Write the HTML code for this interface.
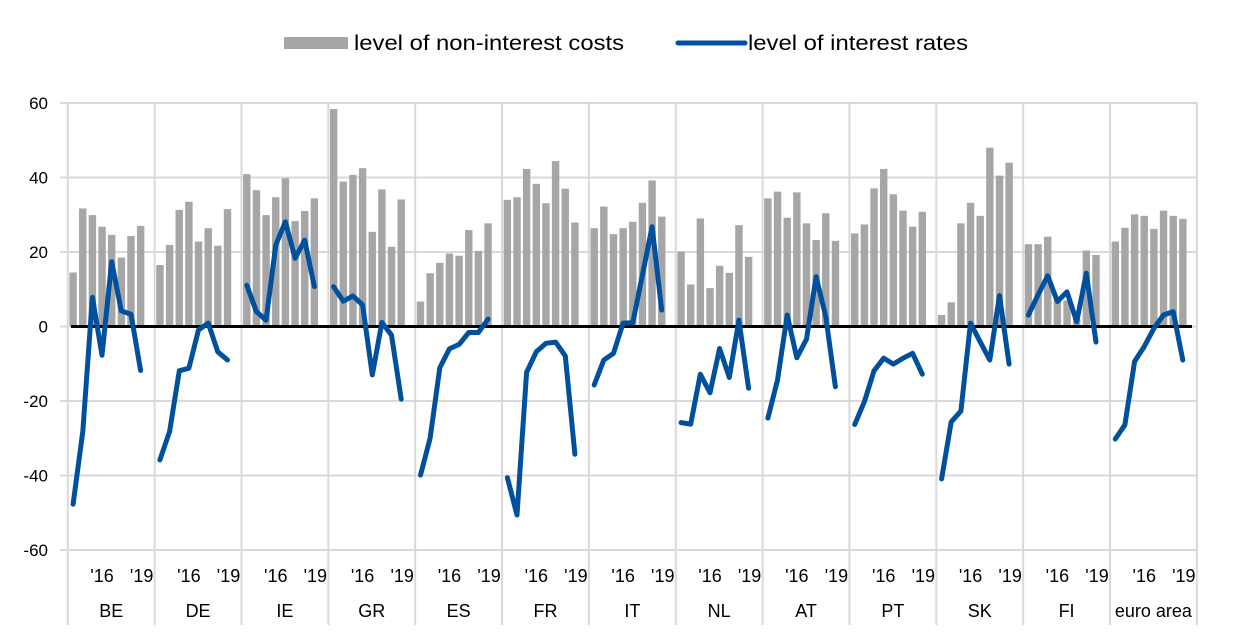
<!DOCTYPE html>
<html><head><meta charset="utf-8"><style>
html,body{margin:0;padding:0;background:#fff;}
svg{display:block;font-family:"Liberation Sans",Arial,sans-serif;}
</style></head><body>
<svg id="c" width="1240" height="643" viewBox="0 0 1240 643" xmlns="http://www.w3.org/2000/svg">
<rect x="0" y="0" width="1240" height="643" fill="#fff"/>
<rect x="284" y="37" width="64" height="12" fill="#a6a6a6"/>
<text x="354" y="50" font-size="21" fill="#000" textLength="270" lengthAdjust="spacingAndGlyphs">level of non-interest costs</text>
<line x1="678" y1="43" x2="745" y2="43" stroke="#00509d" stroke-width="5" stroke-linecap="round"/>
<text x="748" y="50" font-size="21" fill="#000" textLength="220" lengthAdjust="spacingAndGlyphs">level of interest rates</text>
<g id="grid"></g><g id="bars"></g><g id="zero"></g><g id="lines"></g><g id="labels"></g>
</svg>
<script>
const NS="http://www.w3.org/2000/svg";
function el(p,t,a,txt){const e=document.createElementNS(NS,t);for(const k in a)e.setAttribute(k,a[k]);if(txt!==undefined)e.textContent=txt;document.getElementById(p).appendChild(e);return e;}
const Y=v=>326.5-v*3.725;
const g0=67.8,gw=86.85;
const names=["BE","DE","IE","GR","ES","FR","IT","NL","AT","PT","SK","FI","euro area"];
const bars=[
[14.5,31.7,29.9,26.8,24.6,18.5,24.3,27.0],
[16.5,21.9,31.3,33.5,22.8,26.4,21.7,31.5],
[40.9,36.6,29.9,34.7,39.8,28.3,31.0,34.4],
[58.4,38.9,40.7,42.5,25.4,36.8,21.4,34.1],
[6.7,14.3,17.1,19.6,19.0,25.9,20.3,27.7],
[34.0,34.7,42.3,38.3,33.1,44.4,37.0,27.9],
[26.4,32.2,24.8,26.4,28.1,33.2,39.2,29.5],
[20.1,11.3,29.0,10.3,16.3,14.4,27.2,18.7],
[34.4,36.2,29.2,36.0,27.7,23.2,30.4,23.0],
[25.0,27.4,37.1,42.3,35.5,31.1,26.8,30.8],
[3.1,6.5,27.7,33.2,29.7,48.0,40.5,44.0],
[22.1,22.1,24.1,8,7,2,20.4,19.2],
[22.8,26.5,30.1,29.7,26.2,31.1,29.7,28.9]];
const lines=[
[-47.7,-28.2,7.8,-7.7,17.4,4.2,3.3,-11.8],
[-35.8,-28.2,-11.9,-11.2,-0.9,0.9,-6.8,-9.0],
[11.1,4.0,1.7,21.9,28.1,18.3,23.2,10.7],
[10.7,6.8,8.2,5.8,-13.0,1.1,-2.3,-19.5],
[-39.9,-30.0,-11.1,-6.0,-4.8,-1.6,-1.6,2.0],
[-40.6,-50.6,-12.3,-6.8,-4.5,-4.2,-7.9,-34.3],
[-15.7,-9.0,-7.2,0.9,1.0,13.8,26.8,4.4],
[-25.8,-26.2,-12.8,-17.8,-5.9,-13.7,1.7,-16.6],
[-24.6,-14.4,3.1,-8.4,-3.4,13.4,2.6,-16.2],
[-26.3,-20.2,-11.9,-8.5,-10.1,-8.5,-7.2,-12.8],
[-40.9,-25.6,-22.7,0.9,-4.1,-9.0,8.3,-10.1],
[3.1,8.5,13.6,6.7,9.3,1.3,14.3,-4.2],
[-30.2,-26.4,-9.4,-5.4,-0.5,3.1,4.0,-9.0]];
for(let v=-60;v<=60;v+=20){
 el("grid","line",{x1:60,x2:1197,y1:Y(v),y2:Y(v),stroke:"#d9d9d9","stroke-width":2});
 el("labels","text",{x:48,y:Y(v)+6,"font-size":17,"text-anchor":"end",fill:"#000"},String(v));
}
for(let k=0;k<=13;k++){const x=g0+k*gw;el("grid","line",{x1:x,x2:x,y1:102,y2:625,stroke:"#d9d9d9","stroke-width":2});}
for(let k=0;k<13;k++){
 const g=g0+k*gw;
 for(let i=0;i<8;i++){const cx=g+5.3+i*9.65,v=bars[k][i];el("bars","rect",{x:cx-3.7,y:Y(v),width:7.4,height:Y(0)-Y(v),fill:"#a6a6a6"});}
 const pts=lines[k].map((v,i)=>(g+5.3+i*9.65).toFixed(1)+","+Y(v).toFixed(1)).join(" ");
 el("lines","polyline",{points:pts,fill:"none",stroke:"#00509d","stroke-width":5,"stroke-linejoin":"round","stroke-linecap":"round"});
 el("labels","text",{x:g+5.3+3*9.65,y:582,"font-size":18,"text-anchor":"middle"},"'16");
 el("labels","text",{x:g+5.3+7*9.65+1,y:582,"font-size":18,"text-anchor":"middle"},"'19");
 el("labels","text",{x:g+gw/2,y:617,"font-size":18,"text-anchor":"middle"},names[k]);
}
el("zero","line",{x1:71,x2:1192,y1:Y(0),y2:Y(0),stroke:"#000","stroke-width":3});
</script>
</body></html>
